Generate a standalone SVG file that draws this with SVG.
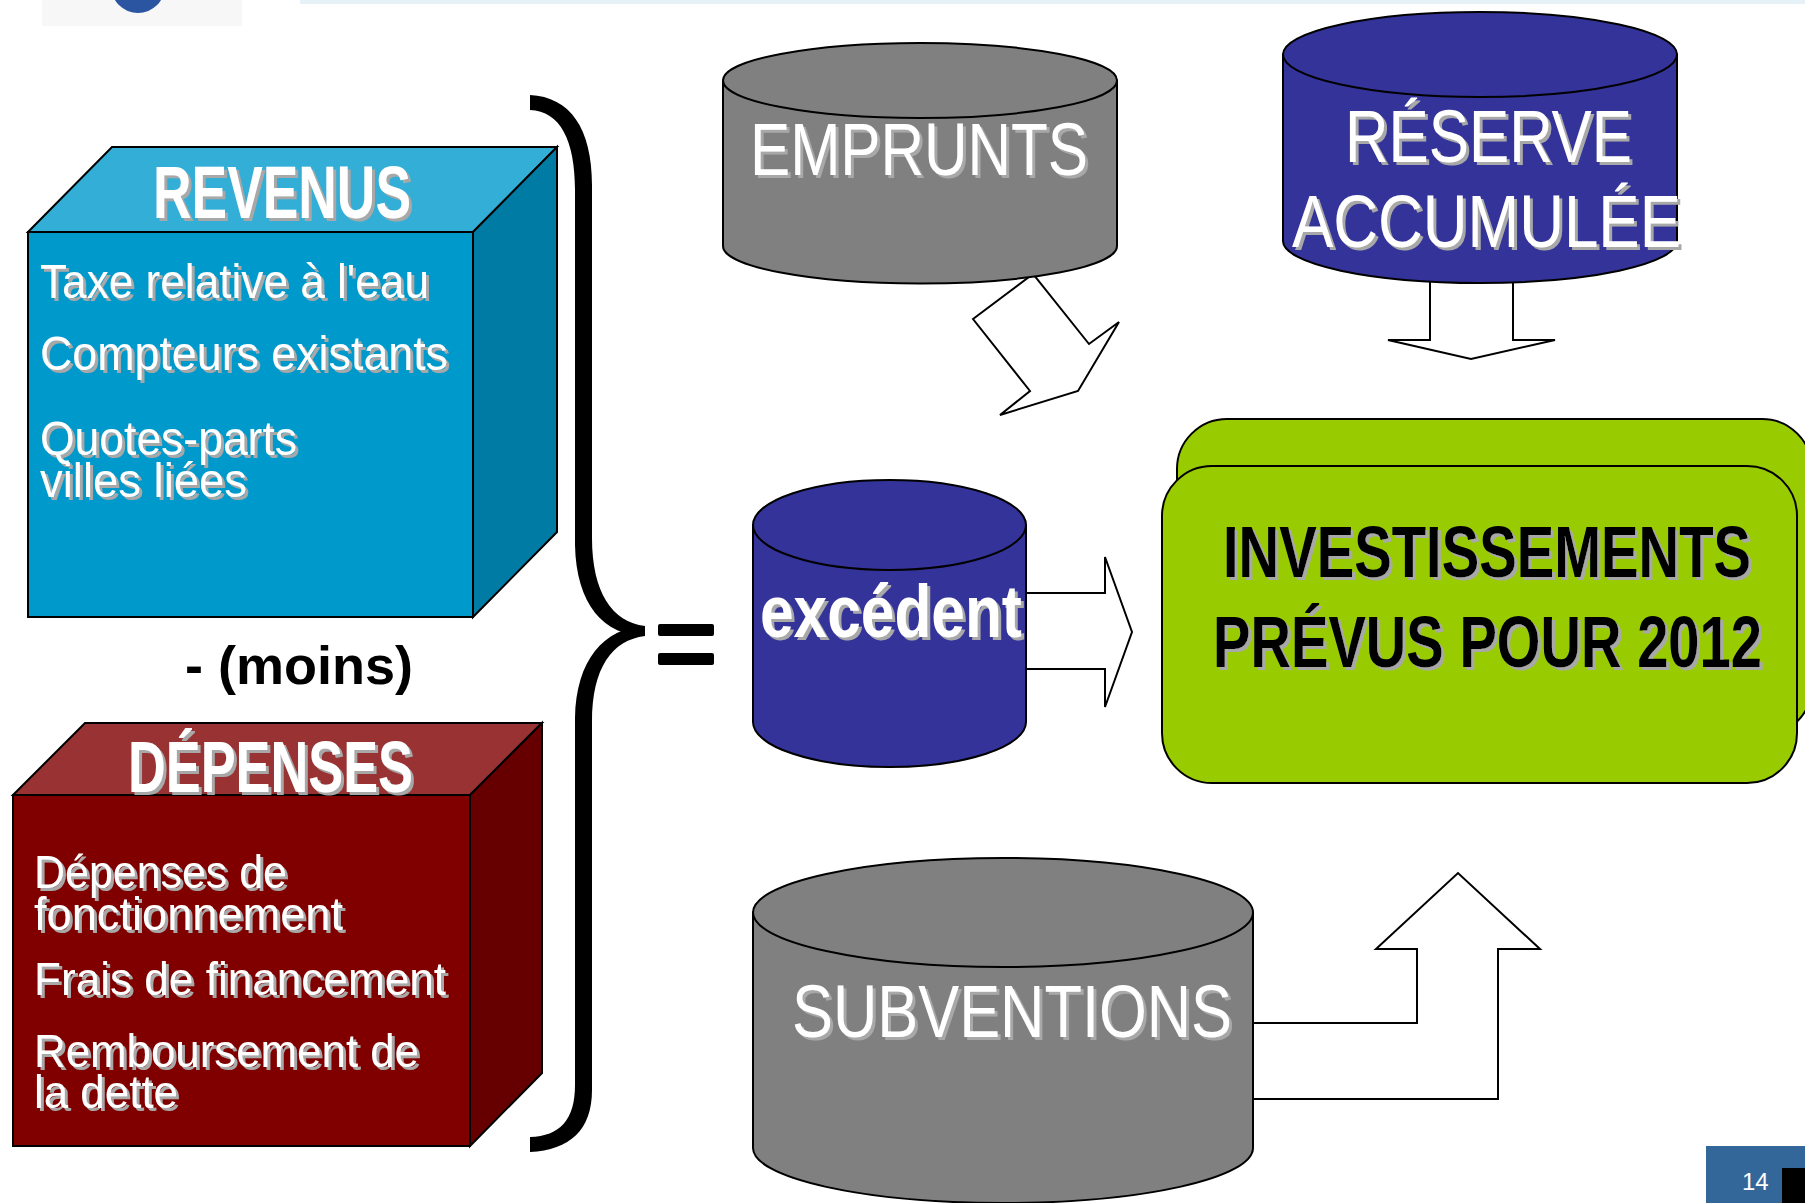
<svg xmlns="http://www.w3.org/2000/svg" width="1805" height="1203" viewBox="0 0 1805 1203">
<defs>
<style>
.edge{stroke:#000;stroke-width:2;stroke-linejoin:miter}
.arrow{fill:#fff;stroke:#000;stroke-width:2;stroke-linejoin:miter}
.nar{font-family:"Liberation Sans Narrow","Liberation Sans",Arial,sans-serif}
.wt{fill:#fff;filter:url(#shw)}
.bk{fill:#000;filter:url(#shw)}
.bold{font-weight:bold}
.grey{fill:#808080}
.navy{fill:#333399}
</style>
<filter id="shw" x="-5%" y="-10%" width="115%" height="130%">
<feDropShadow dx="3" dy="3" stdDeviation="0" flood-color="#A8A8A8" flood-opacity="1"/>
</filter>
</defs>
<rect width="1805" height="1203" fill="#fff"/>
<g id="header">
<rect x="42" y="0" width="200" height="26" fill="#F7F7F7"/>
<circle cx="138" cy="-14" r="27" fill="#2B55A0"/>
<rect x="300" y="0" width="1505" height="4" fill="#E6F2F8"/>
</g>
<g id="connectors">
<polygon class="arrow" points="973,319 1033,274 1089,344 1119,322 1078,391 1000,415 1030,391"/>
<polygon class="arrow" points="1430,270 1430,340 1388,340 1471,359 1555,340 1513,340 1513,270"/>
<polygon class="arrow" points="1015,593 1105,593 1105,557 1132,632 1105,707 1105,669 1015,669"/>
<polygon class="arrow" points="1240,1023 1417,1023 1417,949 1376,949 1458,873 1540,949 1498,949 1498,1099 1240,1099"/>
</g>
<g id="revenus">
<polygon class="edge" fill="#33AED6" points="28,232 112,147 557,147 473,232"/>
<polygon class="edge" fill="#007BA3" points="473,232 557,147 557,532 473,617"/>
<rect class="edge" fill="#0099CC" x="28" y="232" width="445" height="385"/>
<text class="nar wt bold" x="153" y="218" font-size="74" textLength="258" lengthAdjust="spacingAndGlyphs">REVENUS</text>
<text class="nar wt" x="40" y="298" font-size="48" textLength="389" lengthAdjust="spacingAndGlyphs">Taxe relative à l'eau</text>
<text class="nar wt" x="40" y="370" font-size="48" textLength="408" lengthAdjust="spacingAndGlyphs">Compteurs existants</text>
<text class="nar wt" x="40" y="455" font-size="48" textLength="257" lengthAdjust="spacingAndGlyphs">Quotes-parts</text>
<text class="nar wt" x="40" y="497" font-size="48" textLength="207" lengthAdjust="spacingAndGlyphs">villes liées</text>
</g>
<g id="moins">
<text x="185" y="684" font-family="'Liberation Sans',Arial,sans-serif" font-weight="bold" font-size="54" fill="#000">- (moins)</text>
</g>
<g id="depenses">
<polygon class="edge" fill="#993333" points="13,795 85,723 542,723 470,795"/>
<polygon class="edge" fill="#660000" points="470,795 542,723 542,1073 470,1146"/>
<rect class="edge" fill="#800000" x="13" y="795" width="457" height="351"/>
<text class="nar wt bold" x="128" y="792" font-size="72" textLength="285" lengthAdjust="spacingAndGlyphs">DÉPENSES</text>
<text class="nar wt" x="34" y="888" font-size="47" textLength="253" lengthAdjust="spacingAndGlyphs">Dépenses de</text>
<text class="nar wt" x="34" y="930" font-size="47" textLength="309" lengthAdjust="spacingAndGlyphs">fonctionnement</text>
<text class="nar wt" x="34" y="995" font-size="47" textLength="412" lengthAdjust="spacingAndGlyphs">Frais de financement</text>
<text class="nar wt" x="34" y="1067" font-size="47" textLength="385" lengthAdjust="spacingAndGlyphs">Remboursement de</text>
<text class="nar wt" x="34" y="1108" font-size="47" textLength="144" lengthAdjust="spacingAndGlyphs">la dette</text>
</g>
<g id="brace">
<path fill="#000" d="M530,95 C570,97 592,128 592,185 L592,538 C592,592 612,622 645,626 L645,636 C604,636 576,604 575,545 L575,190 C575,140 560,111 530,110 Z"/>
<path fill="#000" d="M645,626 L645,636 C612,640 592,668 592,722 L592,1090 C592,1130 570,1150 530,1152 L530,1137 C560,1136 575,1120 575,1085 L575,718 C576,660 604,628 645,626 Z"/>
</g>
<g id="equals">
<rect x="658" y="624" width="56" height="12" rx="2" fill="#000"/>
<rect x="658" y="653" width="56" height="12" rx="2" fill="#000"/>
</g>
<g id="emprunts">
<path class="edge grey" d="M723,80.5 V246 A197,37.5 0 0 0 1117,246 V80.5 Z"/>
<ellipse class="edge grey" cx="920" cy="80.5" rx="197" ry="37.5"/>
<text class="nar wt" x="750" y="175" font-size="74" textLength="338" lengthAdjust="spacingAndGlyphs">EMPRUNTS</text>
</g>
<g id="reserve">
<path class="edge navy" d="M1283,54.5 V241 A197,42 0 0 0 1677,241 V54.5 Z"/>
<ellipse class="edge navy" cx="1480" cy="54.5" rx="197" ry="42.5"/>
<text class="nar wt" x="1345" y="162" font-size="75" textLength="287" lengthAdjust="spacingAndGlyphs">RÉSERVE</text>
<text class="nar wt" x="1292" y="247" font-size="75" textLength="389" lengthAdjust="spacingAndGlyphs">ACCUMULÉE</text>
</g>
<g id="excedent">
<path class="edge navy" d="M753,525 V722 A136.5,45 0 0 0 1026,722 V525 Z"/>
<ellipse class="edge navy" cx="889.5" cy="525" rx="136.5" ry="45"/>
<text class="nar wt bold" x="760" y="637" font-size="74" textLength="262" lengthAdjust="spacingAndGlyphs">excédent</text>
</g>
<g id="investissements">
<rect class="edge" fill="#99CC00" x="1177" y="419" width="635" height="317" rx="50" ry="50"/>
<rect class="edge" fill="#99CC00" x="1162" y="466" width="635" height="317" rx="50" ry="50"/>
<text class="nar bk bold" x="1223" y="577" font-size="73" textLength="528" lengthAdjust="spacingAndGlyphs">INVESTISSEMENTS</text>
<text class="nar bk bold" x="1213" y="667" font-size="73" textLength="549" lengthAdjust="spacingAndGlyphs">PRÉVUS POUR 2012</text>
</g>
<g id="subventions">
<path class="edge grey" d="M753,912.5 V1148 A250,55 0 0 0 1253,1148 V912.5 Z"/>
<ellipse class="edge grey" cx="1003" cy="912.5" rx="250" ry="54.5"/>
<text class="nar wt" x="792" y="1037" font-size="75" textLength="440" lengthAdjust="spacingAndGlyphs">SUBVENTIONS</text>
</g>
<g id="page-number">
<rect x="1706" y="1146" width="99" height="57" fill="#336699"/>
<rect x="1782" y="1168" width="23" height="35" fill="#000"/>
<text x="1742" y="1190" font-family="'Liberation Sans',Arial,sans-serif" font-size="24" fill="#fff">14</text>
</g>
</svg>
